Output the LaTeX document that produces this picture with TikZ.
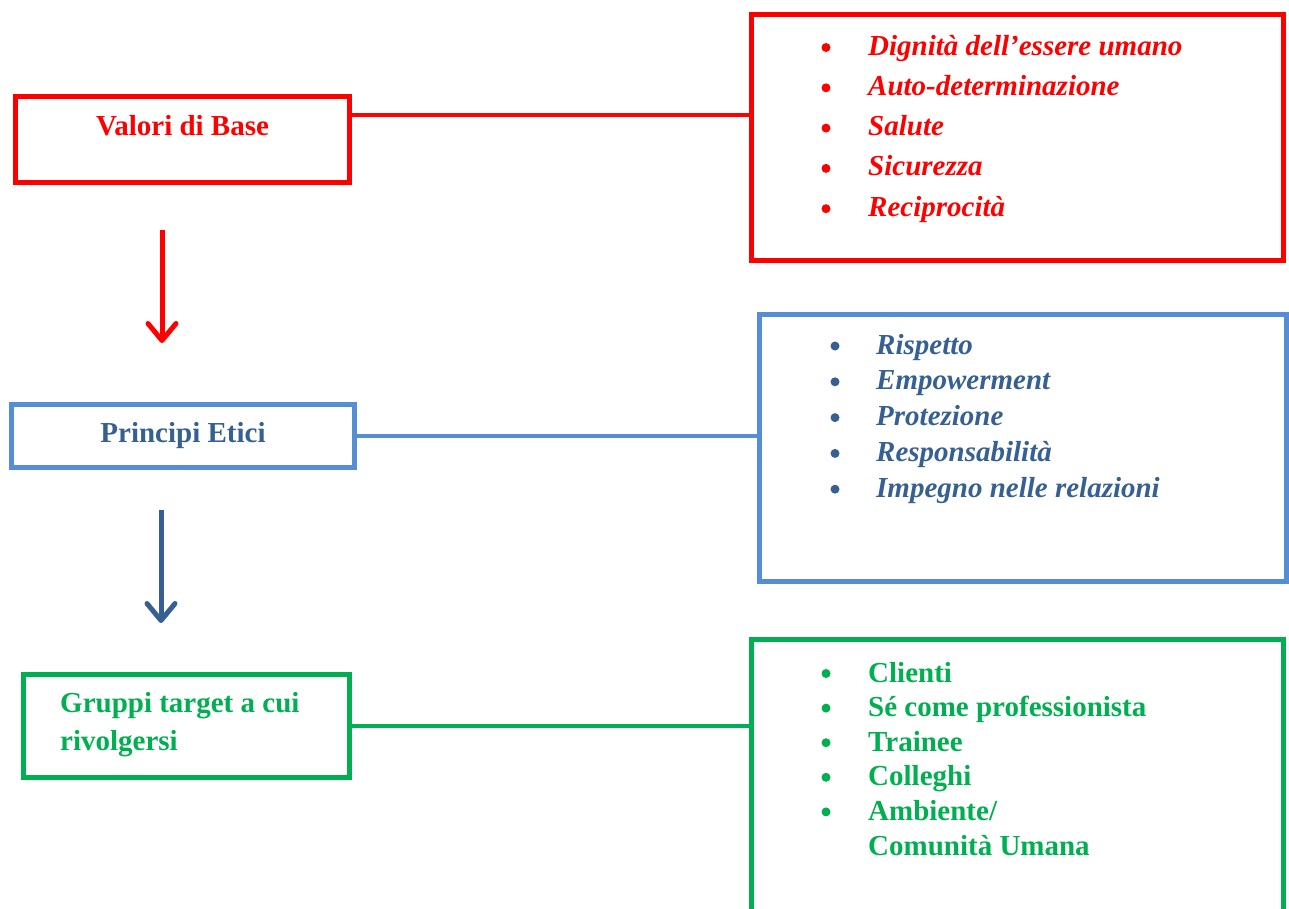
\documentclass[tikz,border=0pt]{standalone}
\usepackage{fontspec}
\setmainfont{Liberation Serif}
\usetikzlibrary{positioning,arrows.meta}
\definecolor{valred}{HTML}{FF0000}
\definecolor{prinblue}{HTML}{558ED5}
\definecolor{printext}{HTML}{376092}
\definecolor{grpgreen}{HTML}{00B050}

\begin{document}
\begin{tikzpicture}[x=1pt, y=-1pt,
	box/.style={draw, line width=5pt, inner sep=0pt},
	title/.style={inner sep=0pt, font=\fontsize{29}{38}\selectfont\bfseries},
	item/.style={inner sep=0pt, anchor=base west, font=\fontsize{29}{34}\selectfont\bfseries},
	link/.style={line width=4pt},
	arr/.style={line width=5pt, -{Straight Barb[length=17pt, width=28pt, round]}}]
	\useasboundingbox (0,0) rectangle (1289,908);
	% Draw the boxes
	\node[box, draw=valred, minimum width=334pt, minimum height=86pt] (valori) at (182.5,139.5) {};
	\node[box, draw=valred, minimum width=532pt, minimum height=246pt] (valoriL) at (1017.5,137.5) {};
	\node[box, draw=prinblue, minimum width=343pt, minimum height=63pt] (principi) at (183,436) {};
	\node[box, draw=prinblue, minimum width=527pt, minimum height=267pt] (principiL) at (1023,448) {};
	\node[box, draw=grpgreen, minimum width=326pt, minimum height=103pt] (gruppi) at (186.5,726) {};
	\node[box, draw=grpgreen, minimum width=532pt, minimum height=400pt] (gruppiL) at (1017.5,839.5) {};
	% Titles of the boxes
	\node[title, text=valred, anchor=base] (valoriT) at (182.5,135) {Valori di Base};
	\node[title, text=printext, anchor=base] (principiT) at (183,442) {Principi Etici};
	\node[title, text=grpgreen, anchor=base west, align=left] (gruppiT) at (60,750.7) {Gruppi target a cui\\rivolgersi};
	% The lists
	\foreach \t [count=\i from 0] in {Dignità dell’essere umano, Auto-determinazione, Salute, Sicurezza, Reciprocità} {
		\fill[valred] (826,47.5+40.3*\i) circle (4.5pt);
		\node[item, text=valred, font=\fontsize{29}{34}\selectfont\bfseries\itshape] (v\i) at (868,55+40.3*\i) {\t};
	}
	\foreach \t [count=\i from 0] in {Rispetto, Empowerment, Protezione, Responsabilità, Impegno nelle relazioni} {
		\fill[printext] (835,346+35.8*\i) circle (4.5pt);
		\node[item, text=printext, font=\fontsize{29}{34}\selectfont\bfseries\itshape] (p\i) at (876,354+35.8*\i) {\t};
	}
	\foreach \t [count=\i from 0] in {Clienti, Sé come professionista, Trainee, Colleghi, Ambiente/} {
		\fill[grpgreen] (826,673.5+34.6*\i) circle (4.5pt);
		\node[item, text=grpgreen] (g\i) at (868,682+34.6*\i) {\t};
	}
	\node[item, text=grpgreen] (g5) at (868,855) {Comunità Umana};
	% Connect the boxes
	\coordinate (lv) at (0,115);
	\draw[link, valred] (valori.east |- lv) -- (valoriL.west |- lv);
	\draw[link, prinblue] (principi.east) -- (principiL.west |- principi.east);
	\draw[link, grpgreen] (gruppi.east) -- (gruppiL.west |- gruppi.east);
	\draw[arr, valred, shorten <=45pt, shorten >=59pt] ([xshift=-20.5pt]valori.south) -- ([xshift=-21pt]principi.north);
	\draw[arr, printext, shorten <=40pt, shorten >=49pt] ([xshift=-22pt]principi.south) -- ([xshift=-25.5pt]gruppi.north);
\end{tikzpicture}
\end{document}
